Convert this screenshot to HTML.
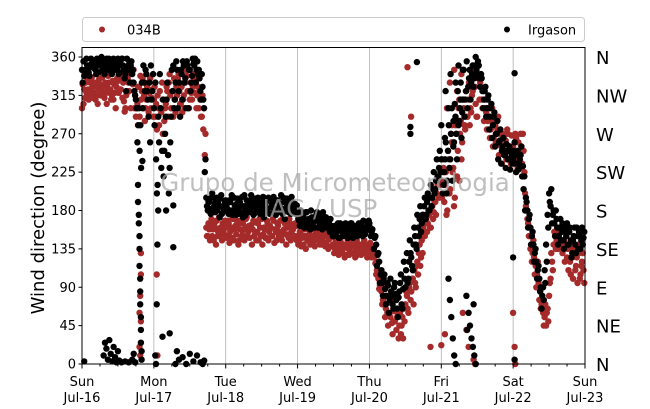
<!DOCTYPE html>
<html><head><meta charset="utf-8"><style>
html,body{margin:0;padding:0;background:#fff}
svg{display:block;font-family:"DejaVu Sans","Liberation Sans",sans-serif}
</style></head><body>
<svg id="chart" width="650" height="409" viewBox="0 0 650 409">
<g id="grid"></g>
<g id="pts"></g>
<rect x="82" y="47.5" width="503" height="316.5" fill="none" stroke="#000" stroke-width="1"/>
<g id="axes"></g>
<text x="335" y="191" text-anchor="middle" font-size="24.5" fill="rgba(170,170,170,0.75)">Grupo de Micrometeorologia</text>
<text x="320" y="217" text-anchor="middle" font-size="24.5" fill="rgba(170,170,170,0.75)">IAG / USP</text>
<text transform="translate(44,208) rotate(-90)" text-anchor="middle" font-size="18">Wind direction (degree)</text>
<g>
<rect x="82.5" y="17.5" width="502" height="24" rx="3" fill="#fff" stroke="#ccc"/>
<circle cx="102" cy="29.5" r="3" fill="#a52a2a"/>
<text x="127" y="34.5" font-size="13">034B</text>
<circle cx="507" cy="29.5" r="3" fill="#000"/>
<text x="528" y="34.5" font-size="13">Irgason</text>
</g>
</svg>
<script>
const dayLabels = ["Sun","Mon","Tue","Wed","Thu","Fri","Sat","Sun"];
const dateLabels = ["Jul-16","Jul-17","Jul-18","Jul-19","Jul-20","Jul-21","Jul-22","Jul-23"];
const yTicks = [0,45,90,135,180,225,270,315,360];
const compass = ["N","NE","E","SE","S","SW","W","NW","N"];
const s034B = [
300,305,312,318,322,315,320,325,318,310,315,322,328,320,316,312,318,324,330,322,315,310,318,325,332,335,322,312,308,300,318,330,340,345,328,300,290,305,325,338,320,300,285,310,330,318,300,322,
310,290,275,300,320,295,270,285,305,320,330,315,300,290,310,325,335,320,305,295,315,330,338,320,310,318,325,335,328,315,300,310,290,275,245,160,150,158,162,150,145,160,168,155,150,160,165,152,
160,150,165,155,148,170,158,152,162,145,168,156,150,160,172,155,148,163,158,150,166,155,145,160,170,152,158,148,165,155,160,150,168,158,145,162,155,150,170,158,152,160,148,165,155,158,150,162,
150,145,155,148,140,158,150,145,152,160,143,148,155,150,145,140,152,148,156,142,150,146,138,150,140,135,145,132,138,142,130,136,128,140,135,132,138,130,142,135,128,138,132,140,136,130,138,134,
135,130,138,125,118,110,100,92,85,75,70,65,60,72,55,48,62,50,40,58,45,35,55,65,70,80,60,95,85,100,110,90,120,130,115,145,160,150,170,165,175,160,185,178,190,200,215,210,
215,200,190,225,180,240,205,260,230,195,270,250,215,285,260,300,275,290,310,280,295,320,340,305,290,350,330,310,320,300,295,285,290,275,300,265,280,270,290,260,255,270,248,262,275,240,255,268,
255,240,265,230,248,270,235,250,200,180,165,150,140,130,125,115,105,95,85,70,60,55,45,65,80,100,120,140,150,145,135,155,140,130,145,138,125,110,120,135,100,128,115,95,130,105,120,110];
const s034B_b = [
328,322,330,335,310,330,336,312,330,325,305,334,315,336,325,330,305,338,318,310,332,328,300,335,318,322,340,330,296,315,335,320,300,330,345,315,300,325,290,310,335,315,300,325,295,335,312,290,
325,305,315,280,300,330,310,300,325,290,340,300,320,335,295,315,340,305,325,310,300,345,320,300,330,310,340,318,300,325,335,290,315,300,270,150,165,145,170,158,165,140,150,172,160,145,155,168,
148,168,142,160,172,145,162,168,140,158,150,165,145,170,150,162,158,140,168,152,145,165,170,150,140,160,148,168,145,162,150,170,142,155,165,150,168,145,155,165,140,152,170,145,162,150,165,145,
140,155,138,160,150,135,145,158,140,150,160,138,145,152,158,145,140,160,138,152,135,148,152,140,130,145,138,128,145,132,140,125,138,145,128,142,130,138,125,145,132,140,128,135,145,138,125,140,
142,125,130,138,105,120,88,105,70,90,55,80,45,60,75,35,50,65,55,30,60,45,30,50,85,65,90,75,100,70,95,115,105,140,125,130,150,165,155,180,160,185,170,190,175,210,195,225,
195,230,210,175,250,200,270,225,185,280,220,300,270,240,310,280,320,290,330,300,315,345,325,290,335,310,340,300,285,310,275,300,265,285,255,280,260,275,245,270,235,265,250,240,270,255,235,250,
235,270,245,260,230,255,270,225,185,170,150,135,120,145,105,90,120,75,65,90,45,70,60,50,95,130,110,155,135,160,150,140,160,145,120,150,135,140,105,125,135,110,125,140,100,115,130,95];
const sIrgason = [
330,338,345,350,342,348,352,355,346,340,350,356,352,345,348,355,358,350,344,348,352,356,350,345,340,352,358,350,335,320,345,355,350,340,330,315,300,280,250,230,300,330,345,320,290,260,310,340,
280,240,210,260,300,250,220,270,310,245,230,290,320,300,330,345,320,290,340,355,330,300,350,345,320,338,352,358,345,340,335,310,325,300,240,185,190,182,195,178,188,192,180,186,194,176,185,190,
185,178,192,180,175,195,182,188,176,190,185,172,198,180,186,178,192,183,175,188,180,195,185,178,190,172,186,182,195,176,184,190,180,175,192,186,178,182,195,170,188,180,185,176,190,182,178,186,
170,162,175,168,160,178,165,170,158,172,166,160,175,168,162,170,158,165,172,160,168,155,162,150,158,152,160,148,165,155,150,162,156,148,158,165,152,160,155,150,162,158,165,150,160,155,162,168,
160,155,150,148,140,128,120,105,95,100,88,80,92,75,85,70,90,82,65,78,95,70,88,100,110,95,120,130,115,140,150,135,160,170,155,175,185,170,190,180,195,185,205,200,215,220,230,225,
225,210,240,200,250,230,270,215,260,290,240,280,300,265,310,290,320,300,335,310,340,325,350,345,355,335,340,320,310,325,300,315,290,305,280,295,270,285,260,275,250,265,245,258,240,255,248,235,
250,235,245,228,240,255,232,220,195,180,170,160,150,140,130,120,110,100,90,80,75,95,120,160,190,205,175,165,180,160,150,170,155,145,160,150,140,155,145,130,150,140,160,135,150,145,140,155];
const sIrgason_b = [
345,355,340,358,350,338,358,350,355,345,358,342,355,360,350,340,355,345,358,352,340,358,345,355,358,342,350,358,345,340,358,350,330,355,345,320,310,260,300,280,330,350,320,340,310,330,350,320,
300,330,200,290,340,230,310,250,290,330,200,260,345,350,310,355,300,330,345,310,350,335,355,300,345,330,358,350,330,355,345,320,340,310,225,195,180,190,176,200,184,178,195,188,172,198,184,180,
192,182,176,190,198,180,186,175,194,182,178,196,185,174,192,188,180,198,186,176,194,182,190,176,184,196,178,190,180,194,176,188,196,182,178,190,185,198,176,190,182,194,178,188,196,180,188,176,
175,168,180,162,172,165,178,160,170,180,163,172,168,178,160,174,166,178,162,172,160,165,170,158,150,162,155,165,148,160,158,152,165,150,160,155,165,148,158,162,150,165,155,160,168,152,158,165,
165,150,158,135,150,115,130,95,110,80,105,70,95,60,100,80,65,95,75,55,85,105,65,120,90,130,100,145,125,110,160,140,175,150,185,165,175,195,175,200,180,210,195,225,205,240,220,250,
240,200,225,260,215,280,240,300,255,305,270,320,285,330,295,345,310,355,325,345,330,350,335,360,340,350,325,335,300,320,290,310,275,300,265,290,255,270,240,262,235,255,245,230,250,240,228,245,
240,260,225,250,235,245,220,205,180,190,160,175,140,155,120,135,100,115,85,65,90,110,140,175,200,185,165,180,150,170,140,160,145,165,135,155,165,140,160,125,145,160,130,150,155,135,160,148];
const extraTimes034B = [0.8,0.81,0.82,0.82,0.82,0.8,0.81,1.04,1.05,4.53,4.58,4.85,5.0,5.05,5.3,5.35,5.38,5.45,5.47,6.0,6.02,6.03,
5.08,5.12,5.15,5.18,5.22,5.25,5.28,5.02];
const extraVals034B  = [60,10,130,105,50,20,80,105,10,348,290,20,22,35,60,40,20,5,0,60,20,0,
300,330,280,345,320,310,340,240];
const extraTimesIrg = [0.03,0.3,0.32,0.34,0.36,0.38,0.4,0.42,0.44,0.46,0.48,0.5,0.52,0.55,0.6,0.65,0.7,0.72,0.74,
0.78,0.78,0.79,0.79,0.8,0.8,0.8,0.81,0.81,0.81,0.82,0.82,0.82,0.83,0.83,0.84,
1.02,1.03,1.04,1.05,1.06,1.12,1.17,1.22,1.27,1.27,1.3,1.32,1.35,1.4,1.45,1.5,1.55,1.6,1.65,1.68,1.7,
4.57,4.57,4.66,5.0,5.05,5.1,5.12,5.14,5.16,5.18,5.2,5.35,5.36,5.38,5.4,5.42,5.44,5.45,5.46,5.48,6.0,6.02,6.02,
5.06,5.1,5.13,5.17,5.2,5.24,5.27,5.3];
const extraValsIrg = [3,10,25,18,5,28,12,3,20,8,2,15,4,2,3,2,5,12,2,
210,190,175,165,150,135,115,100,85,70,55,40,25,15,5,238,
10,0,70,140,180,32,180,36,186,137,0,15,5,8,0,12,3,10,2,0,4,
278,270,354,280,265,100,75,55,30,10,0,80,40,60,45,30,20,70,10,0,125,341,5,
320,300,340,285,330,350,310,345];

const NS='http://www.w3.org/2000/svg';
const X0=82, X1=585, DAYS=7, Y0=364, PXD=307/360;
function xs(t){return X0+t*(X1-X0)/DAYS;}
function ys(v){return Y0-v*PXD;}
function mk(tag,attrs,parent){const e=document.createElementNS(NS,tag);for(const k in attrs)e.setAttribute(k,attrs[k]);parent.appendChild(e);return e;}
const grid=document.getElementById('grid'), axes=document.getElementById('axes'), pts=document.getElementById('pts');
for(let i=1;i<DAYS;i++){
  const l=mk('line',{x1:xs(i),x2:xs(i),y1:47.5,y2:364,stroke:'#b0b0b0','stroke-width':0.8},grid);
  
  
}
for(let i=0;i<dayLabels.length;i++){
  const x=xs(i);
  const t=mk('line',{x1:x,x2:x,y1:364,y2:368.5,stroke:'#000'},axes);
  
  
  const a=mk('text',{x:x,y:386,'text-anchor':'middle','font-size':13},axes);a.textContent=dayLabels[i];
  
  
  const b=mk('text',{x:x,y:402,'text-anchor':'middle','font-size':13},axes);b.textContent=dateLabels[i];
  
  
}
for(let q=1;q<DAYS*4;q++){ if(q%4===0)continue;
  const m=mk('line',{x1:xs(q/4),x2:xs(q/4),y1:364,y2:366.5,stroke:'#000'},axes);
  
  
}
yTicks.forEach((v,i)=>{
  const y=ys(v);
  const t=mk('line',{x1:78.5,x2:82,y1:y,y2:y,stroke:'#000'},axes);
  
  
  const l=mk('text',{x:76,y:y+4.5,'text-anchor':'end','font-size':13},axes);l.textContent=v;
  
  
  const c=mk('text',{x:596,y:y+7,'font-size':18},axes);c.textContent=compass[i];
  
  
});
function dot(t,v,col,name){
  const c=mk('circle',{cx:xs(t).toFixed(1),cy:ys(v).toFixed(1),r:3.2,fill:col},pts);
  
  
}
s034B.forEach((v,i)=>{ if(v!=null) dot(i/48,v,'#a52a2a','point-034b'); });
s034B_b.forEach((v,i)=>{ if(v!=null) dot(i/48+1/96,v,'#a52a2a','point-034b'); });
extraTimes034B.forEach((t,i)=>dot(t,extraVals034B[i],'#a52a2a','point-034b'));
sIrgason.forEach((v,i)=>{ if(v!=null) dot(i/48+1/96,v,'#000','point-irgason'); });
sIrgason_b.forEach((v,i)=>{ if(v!=null) dot(i/48,v,'#000','point-irgason'); });
extraTimesIrg.forEach((t,i)=>dot(t,extraValsIrg[i],'#000','point-irgason'));
</script>
</body></html>
